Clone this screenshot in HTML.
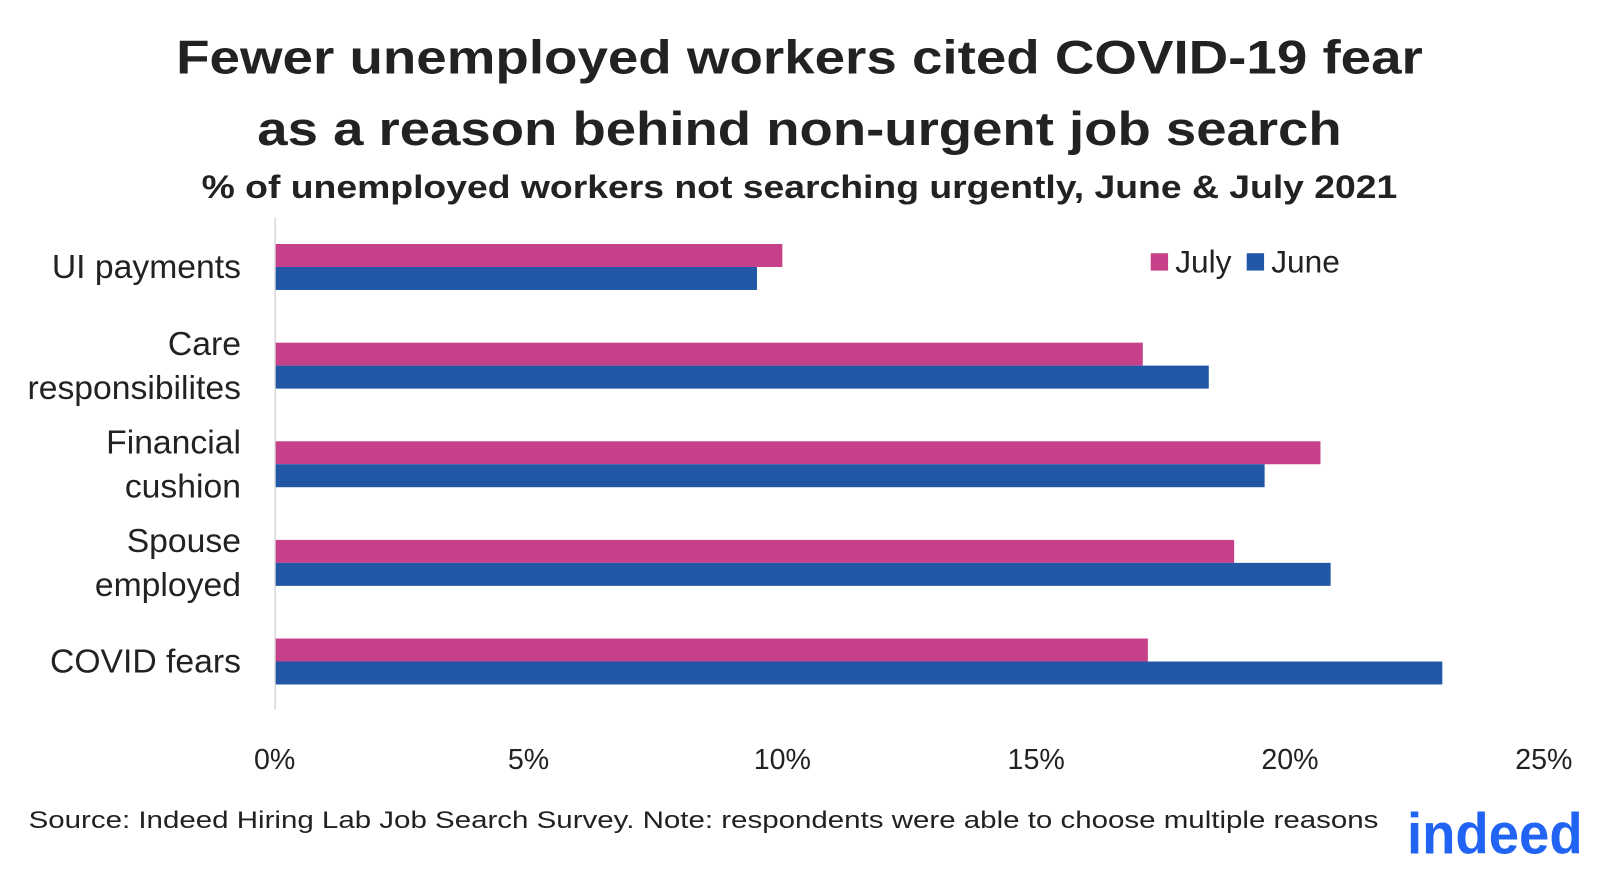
<!DOCTYPE html>
<html><head><meta charset="utf-8"><style>
body{margin:0;width:1600px;height:875px;background:#fff;font-family:"Liberation Sans","DejaVu Sans",sans-serif;overflow:hidden}
</style></head><body>
<svg width="1600" height="875" viewBox="0 0 1567 857" preserveAspectRatio="none">
<text x="783" y="72" text-anchor="middle" font-size="46" font-weight="bold" fill="#222" textLength="1221" lengthAdjust="spacingAndGlyphs">Fewer unemployed workers cited COVID-19 fear</text>
<text x="783" y="142" text-anchor="middle" font-size="46" font-weight="bold" fill="#222" textLength="1062" lengthAdjust="spacingAndGlyphs">as a reason behind non-urgent job search</text>
<text x="783" y="194" text-anchor="middle" font-size="32" font-weight="bold" fill="#222" textLength="1171" lengthAdjust="spacingAndGlyphs">% of unemployed workers not searching urgently, June &amp; July 2021</text>
<line x1="269.5" y1="213" x2="269.5" y2="695" stroke="#d9d9d9" stroke-width="1.5"/>
<g id="bars"></g><g id="ticks"></g><g id="cats"></g>
<rect x="1127" y="248" width="17" height="17" fill="#C6408A"/>
<text x="1151" y="267" font-size="31" fill="#222">July</text>
<rect x="1221" y="248" width="17" height="17" fill="#2257A6"/>
<text x="1245" y="267" font-size="31" fill="#222">June</text>
<text x="28" y="811" font-size="24" fill="#222" textLength="1322" lengthAdjust="spacingAndGlyphs">Source: Indeed Hiring Lab Job Search Survey. Note: respondents were able to choose multiple reasons</text>
<text x="1378" y="836" font-size="56" font-weight="bold" fill="#2164F3" textLength="172" lengthAdjust="spacingAndGlyphs">indeed</text>
</svg>
<script>
const categories=[["UI payments"],["Care","responsibilites"],["Financial","cushion"],["Spouse","employed"],["COVID fears"]];
const julyValues=[10.0,17.1,20.6,18.9,17.2];
const juneValues=[9.5,18.4,19.5,20.8,23.0];
const tickValues=[0,5,10,15,20,25];
const NS="http://www.w3.org/2000/svg";
const x=v=>269+v*49.72;
const yTop=i=>239+i*96.6;
function mk(tag,attrs,parent){const e=document.createElementNS(NS,tag);for(const k in attrs)e.setAttribute(k,attrs[k]);document.getElementById(parent).appendChild(e);return e;}
categories.forEach((c,i)=>{
 const r1=mk('rect',{x:270,y:yTop(i),width:x(julyValues[i])-270,height:22.5,fill:'#C6408A'},'bars');
 
 
 const r2=mk('rect',{x:270,y:yTop(i)+22.5,width:x(juneValues[i])-270,height:22.5,fill:'#2257A6'},'bars');
 
 
 const cy=yTop(i)+22.5;
 c.forEach((line,j)=>{
  const t=mk('text',{x:236,y:cy+11+(j-(c.length-1)/2)*43,'text-anchor':'end','font-size':33,fill:'#222'},'cats');
  t.textContent=line;
  
  
 });
});
tickValues.forEach(v=>{
 const t=mk('text',{x:x(v),y:753,'text-anchor':'middle','font-size':28,fill:'#222'},'ticks');
 t.textContent=v+'%';
 
 
});
</script>
</body></html>
